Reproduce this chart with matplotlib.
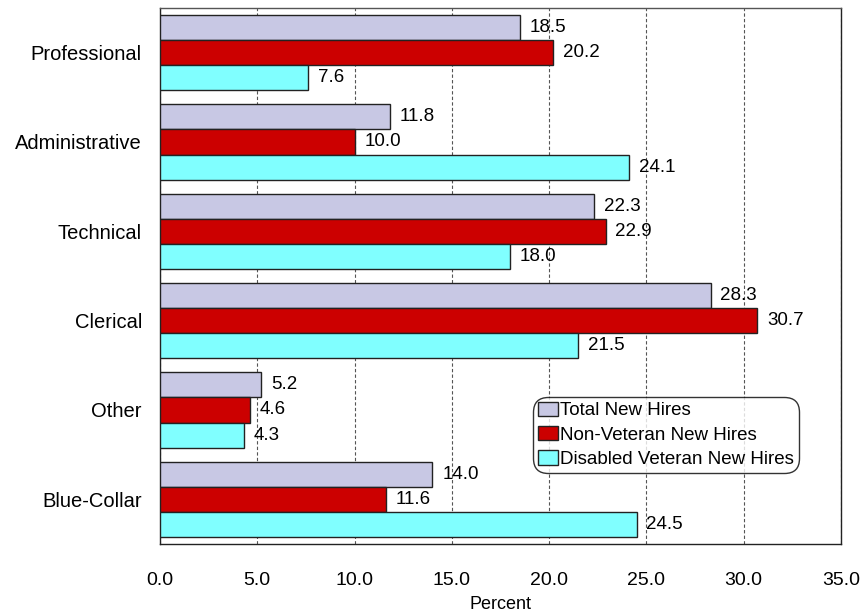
import matplotlib.pyplot as plt
import numpy as np

plt.rcParams['font.family'] = ['Liberation Sans', 'DejaVu Sans']

categories = ["Professional", "Administrative", "Technical", "Clerical", "Other", "Blue-Collar"]
total = [18.5, 11.8, 22.3, 28.3, 5.2, 14.0]
non_vet = [20.2, 10.0, 22.9, 30.7, 4.6, 11.6]
disabled = [7.6, 24.1, 18.0, 21.5, 4.3, 24.5]
series_names = ["Total New Hires", "Non-Veteran New Hires", "Disabled Veteran New Hires"]
colors = ["#C8C8E4", "#CC0000", "#80FFFF"]

fig = plt.figure(figsize=(8.64, 6.15), dpi=100)
ax = fig.add_axes([160/864, 1 - 544/615, 681/864, 536/615])

y = np.arange(len(categories))
h = 0.28
for i, (vals, name, c) in enumerate(zip([total, non_vet, disabled], series_names, colors)):
    pos = y + (i - 1) * h
    bars = ax.barh(pos, vals, height=h, color=c, edgecolor="#222222", linewidth=1.0,
                   label=name, zorder=3)
    for b, v in zip(bars, vals):
        ax.text(v + 0.5, b.get_y() + b.get_height() / 2, f"{v:.1f}",
                va="center", ha="left", fontsize=13.5, zorder=4)

ax.set_ylim(len(categories) - 0.5, -0.5)
ax.set_xlim(0, 35)
ax.set_xticks(np.arange(0, 36, 5))
ax.set_xticklabels([f"{t:.1f}" for t in np.arange(0, 36, 5)], fontsize=14)
ax.set_yticks(y)
ax.set_yticklabels(categories, fontsize=14.5)
ax.tick_params(axis="both", length=0)
ax.tick_params(axis="y", pad=13)
ax.tick_params(axis="x", pad=20)
ax.xaxis.grid(True, linestyle=(0, (3, 2)), color="#555555", linewidth=0.8, zorder=0)
ax.set_xlabel("Percent", fontsize=13, labelpad=5)

for s in ax.spines.values():
    s.set_color("#222222")
    s.set_linewidth(1.0)
ax.spines["top"].set_color("#555555")

leg = ax.legend(loc="upper left", bbox_to_anchor=(373/681, 1 - 389/536), fontsize=13.5,
                frameon=True, fancybox=True, edgecolor="#000000", handlelength=1.1,
                handleheight=0.8, handletextpad=0.1, borderpad=0.25, labelspacing=0.35,
                borderaxespad=0)
leg.get_frame().set_linewidth(1.0)
leg.get_frame().set_boxstyle("round", pad=0.0, rounding_size=0.8)

fig.savefig("out.png", dpi=100)
